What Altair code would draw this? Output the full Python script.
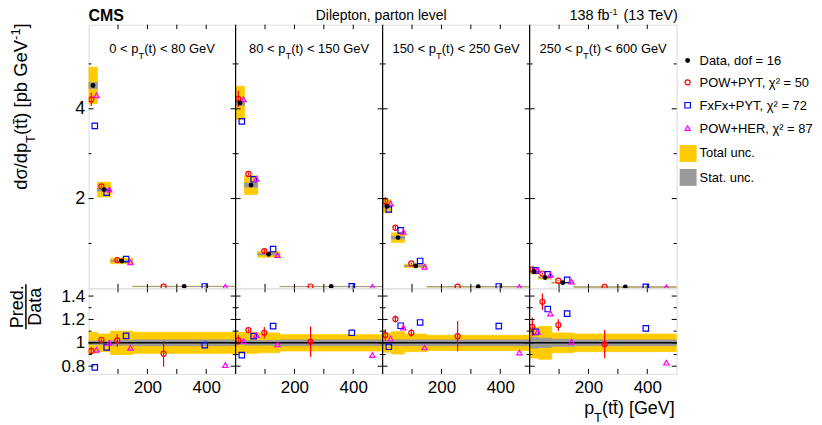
import altair as alt
import pandas as pd

FONT = "Liberation Sans"
W, H1, H2 = 591, 265, 86
XMAX = 500
NP = 4

# ---------------- data ----------------
bin_edges = [0, 30, 75, 150, 500]
panel_ranges = [("0", "80"), ("80", "150"), ("150", "250"), ("250", "600")]

data_xsec = [
    [4.52, 2.20, 0.61, 0.042],
    [4.13, 2.30, 0.76, 0.040],
    [1.83, 1.13, 0.50, 0.036],
    [0.37, 0.24, 0.127, 0.030],
]
powpyt_xsec = [
    [4.21, 2.27, 0.63, 0.038],
    [4.22, 2.55, 0.83, 0.040],
    [1.94, 1.35, 0.555, 0.038],
    [0.42, 0.33, 0.17, 0.030],
]
fxfx_xsec = [
    [3.62, 2.13, 0.65, 0.041],
    [3.72, 2.43, 0.875, 0.043],
    [1.76, 1.29, 0.61, 0.041],
    [0.40, 0.31, 0.19, 0.034],
]
powher_xsec = [
    [4.30, 2.20, 0.58, 0.034],
    [4.21, 2.44, 0.74, 0.036],
    [1.89, 1.26, 0.48, 0.033],
    [0.41, 0.30, 0.15, 0.025],
]
powpyt_ratio = [
    [0.93, 1.026, 1.02, 0.906],
    [1.023, 1.109, 1.086, 1.009],
    [1.066, 1.203, 1.086, 1.057],
    [1.137, 1.351, 1.152, 0.989],
]
fxfx_ratio = [
    [0.79, 0.96, 1.06, 0.98],
    [0.895, 1.057, 1.143, 1.086],
    [0.966, 1.146, 1.174, 1.143],
    [1.094, 1.289, 1.25, 1.123],
]
powher_ratio = [
    [0.94, 1.0, 0.957, 0.81],
    [1.015, 1.066, 0.986, 0.895],
    [1.037, 1.131, 0.96, 0.917],
    [1.094, 1.25, 1.009, 0.83],
]
powpyt_relerr = [
    [0.035, 0.012, 0.055, 0.11],
    [0.043, 0.012, 0.05, 0.13],
    [0.05, 0.03, 0.035, 0.13],
    [0.08, 0.07, 0.05, 0.12],
]
total_relunc = [
    [0.09, 0.075, 0.10, 0.09],
    [0.09, 0.09, 0.085, 0.07],
    [0.08, 0.095, 0.075, 0.065],
    [0.13, 0.14, 0.085, 0.075],
]
stat_relunc = [
    [0.015, 0.015, 0.02, 0.025],
    [0.015, 0.02, 0.02, 0.025],
    [0.02, 0.025, 0.025, 0.025],
    [0.045, 0.04, 0.03, 0.025],
]
legend_labels = ["Data, dof = 16", "POW+PYT, \u03c7\u00b2 = 50", "FxFx+PYT, \u03c7\u00b2 = 72",
                 "POW+HER, \u03c7\u00b2 = 87", "Total unc.", "Stat. unc."]
x_ticks_minor = [100, 200, 300, 400]
y_ticks_top = [1, 2, 3, 4, 5]
y_major_top = [2, 4]
y_ticks_bot = [0.8, 0.9, 1.0, 1.1, 1.2, 1.3, 1.4]
y_major_bot = [0.8, 1.0, 1.2, 1.4]

GOLD, GREY = "#ffcc00", "#999999"
RED, BLUE, MAG = "#ff0000", "#0000ff", "#ff00ff"

# ---------------- text width helper (Arial/Liberation metrics) ----------------
AW = {' ': 278, '(': 333, ')': 333, '+': 584, ',': 278, '-': 333, '.': 278, '/': 278, '<': 584,
      '=': 584, '[': 278, ']': 278, 'G': 778, 'V': 667, 'T': 611, 'e': 556, 'p': 556, 't': 278,
      'b': 556, 'f': 278, 'l': 222, 'i': 222, 'r': 333, 'a': 556, 'o': 556, 'n': 556, 'v': 500,
      'd': 556, '\u03c3': 600, '\u0304': 0, 'D': 722}


def tw(s, size):
    return sum(AW.get(c, 556) for c in s) * size / 1000.0


# ---------------- table ----------------
rows = []
for p in range(NP):
    for b in range(4):
        lo = p * XMAX + bin_edges[b]
        hi = p * XMAX + bin_edges[b + 1]
        w = hi - lo
        d = data_xsec[p][b]
        tu, su, pe = total_relunc[p][b], stat_relunc[p][b], powpyt_relerr[p][b]
        pv = powpyt_xsec[p][b]
        rows.append(dict(
            lo=lo, hi=hi, xd=lo + 0.5 * w, xp=lo + 0.3 * w, xf=lo + 0.7 * w, xh=lo + 0.9 * w,
            d=d, tlo=d * (1 - tu), thi=d * (1 + tu), slo=d * (1 - su), shi=d * (1 + su),
            pw=pv, pwlo=pv * (1 - pe), pwhi=pv * (1 + pe),
            fx=fxfx_xsec[p][b], hr=powher_xsec[p][b],
            rtlo=1 - tu, rthi=1 + tu, rslo=1 - su, rshi=1 + su,
            rpw=powpyt_ratio[p][b], rpwlo=powpyt_ratio[p][b] - pe, rpwhi=powpyt_ratio[p][b] + pe,
            rfx=fxfx_ratio[p][b], rhr=powher_ratio[p][b],
        ))
df = pd.DataFrame(rows)
one = pd.DataFrame({"k": [0]})

xs = alt.Scale(domain=[0, NP * XMAX], nice=False, zero=False)
ys_top = alt.Scale(domain=[0, 5.875], nice=False, zero=False)
ys_bot = alt.Scale(domain=[0.734, 1.466], nice=False, zero=False)

ax_y_top = alt.Axis(values=y_major_top, labelFontSize=18, labelPadding=4, ticks=False, tickSize=0,
                    domain=False, grid=False, title=None, labelFont=FONT, labelColor="black")
ax_y_bot = alt.Axis(values=y_major_bot, labelFontSize=17, labelPadding=4, ticks=False, tickSize=0,
                    domain=False, grid=False, title=None, labelFont=FONT, labelColor="black",
                    labelExpr="datum.value == 1 ? '1' : format(datum.value, '.1f')")
ax_x_bot = alt.Axis(values=[p * XMAX + v for p in range(NP) for v in (200, 400)],
                    labelExpr="datum.value % 500", labelFontSize=17, labelPadding=6,
                    ticks=False, tickSize=0, domain=False, grid=False, title=None,
                    labelFont=FONT, labelColor="black")


def text_layer(items, align, weight="normal"):
    d = pd.DataFrame(items)
    return alt.Chart(d).mark_text(align=align, baseline="alphabetic", font=FONT,
                                  fontWeight=weight, color="black").encode(
        x=alt.X("x:Q", scale=None, axis=None),
        y=alt.Y("y:Q", scale=None, axis=None),
        text=alt.Text("t:N"),
        size=alt.Size("s:Q", scale=None, legend=None),
        angle=alt.Angle("a:Q", scale=None, legend=None),
    )


def build(top):
    H = H1 if top else H2
    ys = ys_top if top else ys_bot
    ay = ax_y_top if top else ax_y_bot
    axx = None if top else ax_x_bot

    def X(f):
        return alt.X(f, type="quantitative", scale=xs, axis=axx)

    def Y(f):
        return alt.Y(f, type="quantitative", scale=ys, axis=ay)

    k = (lambda s: s) if top else (lambda s: "r" + s)
    L = []
    L.append(alt.Chart(df).mark_rect(color=GOLD, stroke=GOLD, strokeWidth=0.8, clip=True).encode(
        x=X("lo"), x2="hi", y=Y(k("tlo")), y2=k("thi")))
    L.append(alt.Chart(df).mark_rect(color=GREY, stroke=GREY, strokeWidth=0.8, clip=True).encode(
        x=X("lo"), x2="hi", y=Y(k("slo")), y2=k("shi")))
    if not top:
        L.append(alt.Chart(one.assign(v=1.0, a=0, b=NP * XMAX)).mark_rule(
            color="black", strokeWidth=1.5).encode(x=X("a"), x2="b", y=Y("v")))
    L.append(alt.Chart(df).mark_rule(color=RED, strokeWidth=1.2, clip=True).encode(
        x=X("xp"), y=Y(k("pwlo")), y2=k("pwhi")))
    L.append(alt.Chart(df).mark_point(shape="circle", filled=False, color=RED, size=26,
                                      strokeWidth=1.2, opacity=1, clip=True).encode(
        x=X("xp"), y=Y(k("pw"))))
    L.append(alt.Chart(df).mark_point(shape="square", filled=False, color=BLUE, size=30,
                                      strokeWidth=1.2, opacity=1, clip=True).encode(
        x=X("xf"), y=Y(k("fx"))))
    L.append(alt.Chart(df).mark_point(shape="triangle-up", filled=False, color=MAG, size=28,
                                      strokeWidth=1.2, opacity=1, clip=True).encode(
        x=X("xh"), y=Y(k("hr"))))
    if top:
        L.append(alt.Chart(df).mark_point(shape="circle", filled=True, color="black", size=24,
                                          opacity=1, clip=True).encode(x=X("xd"), y=Y("d")))
    # panel separators
    L.append(alt.Chart(pd.DataFrame({"b": [XMAX * p for p in range(1, NP)]})).mark_rule(
        color="black", strokeWidth=1.2).encode(x=X("b"), y=alt.value(0), y2=alt.value(H)))
    # x ticks (inward, top and bottom edges)
    dxt = pd.DataFrame({"x": [p * XMAX + v for p in range(NP) for v in x_ticks_minor]})
    tl_top = 4.5 if top else 4
    tl_bot = 4.5 if top else 5
    L.append(alt.Chart(dxt).mark_rule(color="black", strokeWidth=1).encode(
        x=X("x"), y=alt.value(0), y2=alt.value(tl_top)))
    L.append(alt.Chart(dxt).mark_rule(color="black", strokeWidth=1).encode(
        x=X("x"), y=alt.value(H), y2=alt.value(H - tl_bot)))
    # y ticks at every panel edge, inward on both sides
    yt = y_ticks_top if top else y_ticks_bot
    ym = y_major_top if top else y_major_bot
    for side, edges in ((1, [p * XMAX for p in range(NP)]), (-1, [p * XMAX for p in range(1, NP + 1)])):
        for major in (True, False):
            vals = [v for v in yt if (v in ym) == major]
            dyt = pd.DataFrame([{"x": e, "v": v} for e in edges for v in vals])
            ln = 5 if major else 3
            L.append(alt.Chart(dyt).mark_rule(color="black", strokeWidth=1, x2Offset=side * ln).encode(
                x=X("x"), x2="x", y=Y("v")))
    return L


# ---------------- top chart ----------------
top_layers = build(True)
pw = W / NP
tx_left, tx_center, tx_right = [], [], []
for p, (lo, hi) in enumerate(panel_ranges):
    a, b, c = f"{lo} < p", "T", f"(t) < {hi} GeV"
    wa, wb, wc = tw(a, 13), tw(b, 9.5), tw(c, 13)
    x0 = p * pw + pw / 2 - (wa + wb + wc) / 2
    tx_left += [dict(t=a, x=x0, y=28, s=13, a=0), dict(t=b, x=x0 + wa, y=34.5, s=9.5, a=0),
                dict(t=c, x=x0 + wa + wb, y=28, s=13, a=0)]
tx_center.append(dict(t="Dilepton, parton level", x=294, y=-4.8, s=14, a=0))
c1, c2, c3 = " (13 TeV)", "-1", "138 fb"
xr = 592
tx_right += [dict(t=c1, x=xr, y=-4.8, s=14.5, a=0),
             dict(t=c2, x=xr - tw(c1, 14.5), y=-9.3, s=9, a=0),
             dict(t=c3, x=xr - tw(c1, 14.5) - tw(c2, 9), y=-4.8, s=14.5, a=0)]
# rotated y title
x0, y0 = -61.5, 166
parts = [("d\u03c3/dp", 18.5, 0), ("T", 13, 8), ("(tt\u0304) [pb GeV", 18.5, 0), ("-1", 13, -7.5), ("]", 18.5, 0)]
yy = y0
for t, s, off in parts:
    tx_left.append(dict(t=t, x=x0 + off, y=yy, s=s, a=270))
    yy -= tw(t, s)
# legend
leg_x, leg_tx = 602, 614
leg_rows = [36, 58, 81, 104]
for lbl, ry in zip(legend_labels[:4], leg_rows):
    tx_left.append(dict(t=lbl, x=leg_tx, y=ry + 4.5, s=13, a=0))
tx_left.append(dict(t=legend_labels[4], x=leg_tx, y=129 + 4.5, s=13, a=0))
tx_left.append(dict(t=legend_labels[5], x=leg_tx, y=154 + 4.5, s=13, a=0))

top_layers += [text_layer(tx_left, "left"), text_layer(tx_center, "center"), text_layer(tx_right, "right"),
               text_layer([dict(t="CMS", x=0, y=-3.4, s=16, a=0)], "left", "bold")]
top_layers += [
    alt.Chart(one).mark_point(shape="circle", filled=True, color="black", size=24, opacity=1).encode(
        x=alt.value(leg_x), y=alt.value(leg_rows[0])),
    alt.Chart(one).mark_point(shape="circle", filled=False, color=RED, size=26, strokeWidth=1.2, opacity=1).encode(
        x=alt.value(leg_x), y=alt.value(leg_rows[1])),
    alt.Chart(one).mark_point(shape="square", filled=False, color=BLUE, size=30, strokeWidth=1.2, opacity=1).encode(
        x=alt.value(leg_x), y=alt.value(leg_rows[2])),
    alt.Chart(one).mark_point(shape="triangle-up", filled=False, color=MAG, size=28, strokeWidth=1.2, opacity=1).encode(
        x=alt.value(leg_x), y=alt.value(leg_rows[3])),
    alt.Chart(one).mark_rect(color=GOLD).encode(x=alt.value(594), x2=alt.value(611), y=alt.value(121), y2=alt.value(138)),
    alt.Chart(one).mark_rect(color=GREY).encode(x=alt.value(594), x2=alt.value(611), y=alt.value(145), y2=alt.value(162)),
    alt.Chart(one).mark_rule(color="white").encode(x=alt.value(-80), x2=alt.value(-79.5), y=alt.value(H1 - 1)),
]
top = alt.layer(*top_layers).properties(width=W, height=H1)

# ---------------- bottom chart ----------------
bot_layers = build(False)
bc, br = [], []
bc += [dict(t="Pred.", x=-65.6, y=18.5, s=18, a=270), dict(t="Data", x=-47.5, y=18.5, s=18, a=270)]
c1, c2, c3 = "(tt\u0304) [GeV]", "T", "p"
br += [dict(t=c1, x=589, y=126, s=18, a=0),
       dict(t=c2, x=589 - tw(c1, 18), y=134.5, s=13, a=0),
       dict(t=c3, x=589 - tw(c1, 18) - tw(c2, 13), y=126, s=18, a=0)]
bot_layers += [text_layer(bc, "center"), text_layer(br, "right"),
               alt.Chart(one).mark_rule(color="black", strokeWidth=1.5).encode(
                   x=alt.value(-63), y=alt.value(-4), y2=alt.value(41))]
bottom = alt.layer(*bot_layers).properties(width=W, height=H2)

chart = alt.vconcat(top, bottom, spacing=0, bounds="flush",
                    padding={"left": 0, "top": -2.3, "right": 0, "bottom": 0}).resolve_scale(
    x="independent", y="independent").configure_view(stroke="black", strokeWidth=1.2).configure(
    background="white")

chart.save("out.html", embed_options={"renderer": "svg", "actions": False})
